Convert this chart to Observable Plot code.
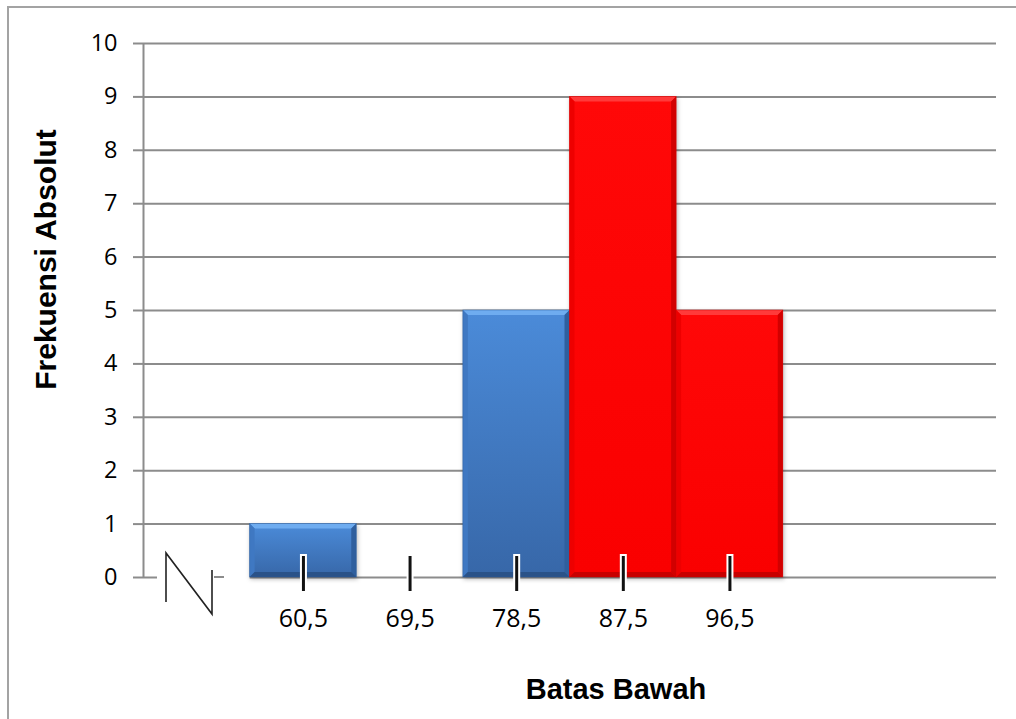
<!DOCTYPE html>
<html>
<head>
<meta charset="utf-8">
<script src="https://cdn.jsdelivr.net/npm/d3@7"></script>
<script src="https://cdn.jsdelivr.net/npm/@observablehq/plot@0.6"></script>
<style>
  html, body { margin: 0; padding: 0; background: #fff; }
</style>
</head>
<body>
<div id="chart"></div>
<script>
// ---- data ----
const categories = ["60,5", "69,5", "78,5", "87,5", "96,5"];   // batas bawah
const frequencies = [1, 0, 5, 9, 5];                            // frekuensi absolut
const groups = ["biru", "biru", "biru", "merah", "merah"];      // bar colour group
const slotIndex = [1, 2, 3, 4, 5];                              // category slot on the axis (slot 0 = axis break)
const slotCount = 8;
const yTicks = [0, 1, 2, 3, 4, 5, 6, 7, 8, 9, 10];
const xTitle = "Batas Bawah";
const yTitle = "Frekuensi Absolut";

const data = categories.map((c, i) => ({
  label: c, slot: slotIndex[i], freq: frequencies[i], group: groups[i]
}));

// ---- styles ----
const palette = {
  biru:  { top: "#6eacf0", g0: "#4b8bd9", g1: "#3767a8", left: "#3f78c2", right: "#2f5f9e", bottom: "#2a5288" },
  merah: { top: "#ff3a3a", g0: "#ff0808", g1: "#fa0000", left: "#ee0000", right: "#d20000", bottom: "#c80000" }
};
const gridColor = "#8c8c8c";

// outer chart border (decoration)
function border(index, scales, values, dims) {
  const g = d3.create("svg:g");
  g.append("rect").attr("x", 8).attr("y", 7)
    .attr("width", dims.width + 20).attr("height", dims.height + 20)
    .attr("fill", "none").attr("stroke", "#a3a3a3").attr("stroke-width", 2);
  return g.node();
}

// bevelled bars drawn through the x / y scales
function bevelBars(index, scales) {
  const g = d3.create("svg:g");
  const defs = g.append("defs");
  for (const k of Object.keys(palette)) {
    const lg = defs.append("linearGradient").attr("id", "grad-" + k)
      .attr("x1", 0).attr("y1", 0).attr("x2", 0).attr("y2", 1);
    lg.append("stop").attr("offset", "0%").attr("stop-color", palette[k].g0);
    lg.append("stop").attr("offset", "100%").attr("stop-color", palette[k].g1);
  }
  const bars = g.append("g").style("filter", "drop-shadow(1px 2px 2px rgba(0,0,0,0.28))");
  const b = 5;
  for (const d of data) {
    if (!(d.freq > 0)) continue;
    const p = palette[d.group];
    const x0 = scales.x(d.slot), x1 = scales.x(d.slot + 1);
    const y0 = scales.y(0), y1 = scales.y(d.freq);
    const bar = bars.append("g");
    bar.append("rect").attr("x", x0).attr("y", y1).attr("width", x1 - x0).attr("height", y0 - y1)
      .attr("fill", `url(#grad-${d.group})`);
    const poly = (pts, fill) => bar.append("polygon")
      .attr("points", pts.map(q => q.join(",")).join(" ")).attr("fill", fill);
    poly([[x0, y1], [x1, y1], [x1 - b, y1 + b], [x0 + b, y1 + b]], p.top);
    poly([[x0, y1], [x0 + b, y1 + b], [x0 + b, y0 - b], [x0, y0]], p.left);
    poly([[x1, y1], [x1 - b, y1 + b], [x1 - b, y0 - b], [x1, y0]], p.right);
    poly([[x0, y0], [x1, y0], [x1 - b, y0 - b], [x0 + b, y0 - b]], p.bottom);
    bar.append("rect").attr("x", x0).attr("y", y1).attr("width", x1 - x0).attr("height", y0 - y1)
      .attr("fill", "none").attr("stroke", p.right).attr("stroke-width", 0.8).attr("stroke-opacity", 0.6);
  }
  return g.node();
}

// axis break symbol in the first slot
function axisBreak(index, scales) {
  const ox = scales.x(0), oy = scales.y(0);
  const g = d3.create("svg:g");
  g.append("rect").attr("x", ox + 14).attr("y", oy - 6).attr("width", scales.x(1) - ox - 14).attr("height", 12).attr("fill", "#fff");
  g.append("line").attr("x1", ox + 71).attr("x2", ox + 81).attr("y1", oy).attr("y2", oy)
    .attr("stroke", gridColor).attr("stroke-width", 2);
  g.append("path")
    .attr("d", `M${ox + 23},${oy + 25} L${ox + 23},${oy - 24} L${ox + 69},${oy + 37} L${ox + 69},${oy - 7}`)
    .attr("fill", "none").attr("stroke", "#222").attr("stroke-width", 1.6).attr("stroke-linejoin", "miter");
  return g.node();
}

const marks = [
  border,
  Plot.ruleY(yTicks, { x1: 0, x2: slotCount, stroke: gridColor, strokeWidth: 2 }),
  Plot.ruleX([0], { y1: 0, y2: 10, stroke: gridColor, strokeWidth: 2 }),
];
if (Plot.axisY) {
  marks.push(Plot.axisY(yTicks, {
    tickSize: 10, tickPadding: 16, stroke: gridColor, strokeWidth: 2, tickFormat: d => String(d),
    fill: "#000", fontSize: 23.5, fontFamily: "Open Sans", label: null
  }));
}
marks.push(
  axisBreak,
  bevelBars,
  Plot.ruleX(data, { x: d => d.slot + 0.5, y1: 0, y2: 0, insetTop: -23, insetBottom: -15, stroke: "#fff", strokeWidth: 7 }),
  Plot.ruleX(data, { x: d => d.slot + 0.5, y1: 0, y2: 0, insetTop: -21, insetBottom: -14, stroke: "#111", strokeWidth: 3 }),
  Plot.text(data, { x: d => d.slot + 0.5, y: 0, text: "label", dy: 41, fontSize: 25, fontFamily: "Open Sans", fill: "#000", textAnchor: "middle", lineAnchor: "middle" }),
  Plot.text([xTitle], { frameAnchor: "bottom", dx: 46, dy: 112, textAnchor: "middle", lineAnchor: "middle",
    fontSize: 29, fontWeight: "bold", fontFamily: "Liberation Sans, Arial, sans-serif", fill: "#000" }),
  Plot.text([yTitle], { frameAnchor: "left", rotate: -90, dx: -97, dy: -51, textAnchor: "middle", lineAnchor: "middle",
    fontSize: 30, fontWeight: "bold", fontFamily: "Liberation Sans, Arial, sans-serif", fill: "#000" })
);

const chart = Plot.plot({
  width: 1016,
  height: 719,
  marginLeft: 143,
  marginRight: 20,
  marginTop: 43,
  marginBottom: 142,
  x: { domain: [0, slotCount], axis: null },
  y: Plot.axisY ? { domain: [0, 10], axis: null }
                : { domain: [0, 10], ticks: yTicks, tickFormat: d => String(d), tickSize: 10, tickPadding: 16, label: null },
  style: { background: "#fff", fontFamily: "Open Sans", fontSize: "22px", color: "#000", overflow: "visible" },
  marks
});
document.getElementById("chart").appendChild(chart);
</script>
</body>
</html>
